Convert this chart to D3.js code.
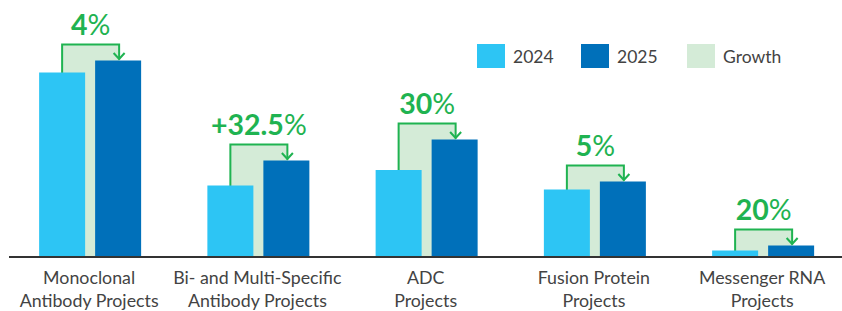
<!DOCTYPE html>
<html>
<head>
<meta charset="utf-8">
<script src="https://cdn.jsdelivr.net/npm/d3@7"></script>
<style>
  html, body { margin: 0; padding: 0; background: #fff; }
  svg { display: block; font-family: Lato, "Noto Sans", sans-serif; }
</style>
</head>
<body>
<svg id="chart" width="842" height="311"></svg>
<script>
// Chart data
const categories = [
    ["Monoclonal", "Antibody Projects"],
    ["Bi- and Multi-Specific", "Antibody Projects"],
    ["ADC", "Projects"],
    ["Fusion Protein", "Projects"],
    ["Messenger RNA", "Projects"]
];
const series = ["2024", "2025"];
const values2024 = [183.5, 70.5, 86, 66.5, 5.5];
const values2025 = [195.5, 95.5, 116.5, 74.5, 10.5];
const growthLabels = ["4", "+32.5", "30", "5", "20"];
const legendLabels = ["2024", "2025", "Growth"];

const colors = { "2024": "#2dc5f4", "2025": "#0070ba" };
const growthFill = "#d4ebd7";
const green = "#1fb351";
const textColor = "#434343";

const width = 842, height = 311;
const baseline = 256;

const svg = d3.select("#chart");

const groups = categories.map((c, i) => i);
const x = d3.scaleBand().domain(groups).range([6, 847.25]).padding(0);
const xInner = d3.scaleBand().domain(series).range([-51, 51]).paddingInner(0.1786);
const y = d3.scaleLinear().domain([0, 200]).range([baseline, baseline - 200]);

const data = groups.map(i => ({
    i,
    cx: x(i) + x.bandwidth() / 2,
    v: { "2024": values2024[i], "2025": values2025[i] },
    label: growthLabels[i]
}));

// growth boxes (drawn behind bars)
data.forEach(d => {
    const left = d.cx + xInner("2024") + xInner.bandwidth() / 2;
    const right = d.cx + xInner("2025") + xInner.bandwidth() / 2 + 1;
    const top2025 = y(d.v["2025"]);
    const boxTop = top2025 - 16;

    svg.append("rect")
        .attr("x", left)
        .attr("y", boxTop)
        .attr("width", right - left)
        .attr("height", baseline - boxTop)
        .attr("fill", growthFill);

    svg.append("path")
        .attr("d", `M${left},${baseline} V${boxTop} H${right} V${top2025 - 1}`)
        .attr("fill", "none")
        .attr("stroke", green)
        .attr("stroke-width", 2);

    d.left = left; d.right = right; d.boxTop = boxTop; d.top2025 = top2025;
});

// bars
data.forEach(d => {
    series.forEach(s => {
        svg.append("rect")
            .attr("x", d.cx + xInner(s))
            .attr("y", y(d.v[s]))
            .attr("width", xInner.bandwidth())
            .attr("height", baseline - y(d.v[s]))
            .attr("fill", colors[s]);
    });
});

// arrow heads + growth labels
data.forEach(d => {
    svg.append("path")
        .attr("d", `M${d.right - 5.5},${d.top2025 - 7.5} L${d.right},${d.top2025 - 1.5} L${d.right + 5.5},${d.top2025 - 7.5}`)
        .attr("fill", "none")
        .attr("stroke", green)
        .attr("stroke-width", 2);

    const t = svg.append("text")
        .attr("x", (d.left + d.right) / 2)
        .attr("y", d.boxTop - 10)
        .attr("text-anchor", "middle")
        .attr("font-size", "28.5px")
        .attr("fill", green);
    t.append("tspan").attr("font-weight", "bold").text(d.label);
    t.append("tspan").attr("font-weight", "normal").text("%");
});

// axis line
svg.append("line")
    .attr("x1", 9).attr("x2", width)
    .attr("y1", baseline + 1).attr("y2", baseline + 1)
    .attr("stroke", "#333")
    .attr("stroke-width", 2);

// category labels
data.forEach(d => {
    const t = svg.append("text")
        .attr("text-anchor", "middle")
        .attr("font-size", "17.8px")
        .attr("fill", textColor);
    categories[d.i].forEach((line, k) => {
        t.append("tspan")
            .attr("x", d.cx - 1)
            .attr("y", 284 + k * 23)
            .text(line);
    });
});

// legend
const legendX = [477, 581, 687];
const legendFills = [colors["2024"], colors["2025"], growthFill];
legendLabels.forEach((lab, k) => {
    svg.append("rect")
        .attr("x", legendX[k]).attr("y", 44)
        .attr("width", 28).attr("height", 24)
        .attr("fill", legendFills[k]);
    svg.append("text")
        .attr("x", legendX[k] + 36)
        .attr("y", 63)
        .attr("font-size", "17.5px")
        .attr("fill", textColor)
        .text(lab);
});
</script>
</body>
</html>
